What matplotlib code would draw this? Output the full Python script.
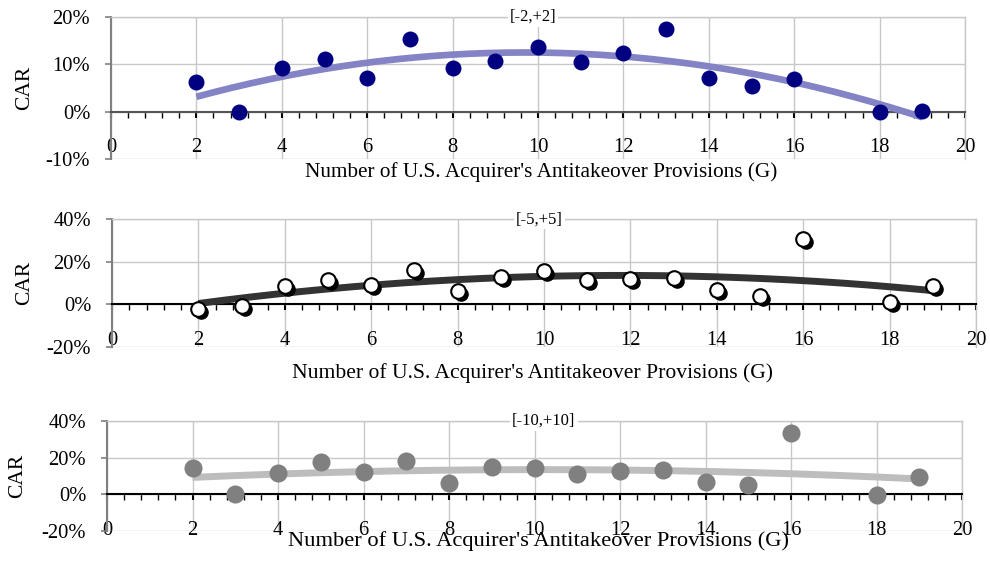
import numpy as np
import matplotlib
matplotlib.use("Agg")
import matplotlib.pyplot as plt
from matplotlib import transforms

plt.rcParams['font.family'] = ['Liberation Serif', 'DejaVu Serif']

# ---- data ----
g = [2, 3, 4, 5, 6, 7, 8, 9, 10, 11, 12, 13, 14, 15, 16, 18, 19]
car_2 = [6.2, 0.0, 9.2, 11.1, 7.1, 15.4, 9.2, 10.7, 13.7, 10.4, 12.5, 17.5, 7.1, 5.5, 6.9, -0.1, 0.1]
car_5 = [-2.4, -0.8, 8.8, 11.5, 9.1, 16.2, 6.4, 12.7, 15.7, 11.5, 11.8, 12.2, 6.7, 3.9, 30.6, 0.9, 8.6]
car_10 = [14.2, 0.0, 11.5, 17.8, 12.4, 18.2, 6.4, 14.7, 14.2, 11.1, 12.7, 13.3, 6.9, 4.9, 33.3, -0.4, 9.6]
titles = ["[-2,+2]", "[-5,+5]", "[-10,+10]"]
ylims = [(-10, 20), (-20, 40), (-20, 40)]
ysteps = [10, 20, 20]
xlabel = "Number of U.S. Acquirer's Antitakeover Provisions (G)"

W, H = 990, 561
fig = plt.figure(figsize=(W / 100, H / 100), dpi=100)

# pixel boxes: left, right, top, bottom
boxes = [(111, 965, 17, 159), (112, 976, 219.3, 346.7), (107, 962, 421, 531)]
title_x = [0.494, 0.495, 0.511]
xlabel_pos = [(541, 176.7), (533, 378.3), (539, 545.7)]
xlabel_fs = [15.3, 15.6, 16.2]
car_pos = [(25, 87.5), (25, 283), (18, 476)]

def make_ax(i):
    l, r, t, b = boxes[i]
    ax = fig.add_axes([l / W, 1 - b / H, (r - l) / W, (b - t) / H])
    return ax

series = [car_2, car_5, car_10]
fs_tick = 14.8
for i in range(3):
    ax = make_ax(i)
    y = np.array(series[i])
    x = np.array(g, dtype=float)
    lo, hi = ylims[i]
    ax.set_xlim(0, 20)
    ax.set_ylim(lo, hi)
    ax.set_xticks(np.arange(0, 21, 2))
    ax.set_xticks(np.arange(0, 20.01, 0.4), minor=True)
    ax.set_yticks(np.arange(lo, hi + 0.1, ysteps[i]))
    ax.set_yticklabels([f"{int(v)}%" for v in np.arange(lo, hi + 0.1, ysteps[i])])
    ax.grid(True, which='major', color='#c8c8c8', linewidth=1.0, zorder=0)
    ax.set_axisbelow(True)
    for s in ['top', 'right']:
        ax.spines[s].set_color('#c8c8c8')
        ax.spines[s].set_linewidth(1.0)
    ax.spines['left'].set_color('#808080')
    ax.spines['left'].set_linewidth(1.5)
    ax.spines['bottom'].set_position(('data', 0))
    ax.spines['bottom'].set_color('#555555' if i == 0 else '#000000')
    ax.spines['bottom'].set_linewidth(1.5)
    ax.tick_params(axis='x', which='major', direction='out', length=4, width=1.5,
                   color='#000000', pad=15, labelsize=fs_tick)
    ax.tick_params(axis='x', which='minor', direction='out', length=4, width=1.0,
                   color='#000000')
    ax.tick_params(axis='y', which='major', direction='out', length=4, width=1.2,
                   color='#808080', pad=11, labelsize=fs_tick)
    ax.tick_params(axis='y', which='minor', left=False)

    # trend line (2nd order polynomial fit)
    coef = np.polyfit(x, y, 2)
    xs = np.linspace(x.min(), x.max(), 200)
    ys = np.polyval(coef, xs)

    if i == 0:
        ax.plot(xs, ys, color='#8383c6', linewidth=4.8, solid_capstyle='butt', zorder=3)
        ax.plot(x, y, 'o', color='#000080', markersize=11.5, markeredgewidth=0, zorder=4,
                clip_on=False)
    elif i == 1:
        ax.plot(xs, ys, color='#333333', linewidth=5, solid_capstyle='butt', zorder=3)
        shadow = transforms.offset_copy(ax.transData, fig=fig, x=3, y=-3, units='dots')
        ax.plot(x, y, 'o', color='#000000', markersize=10.5, markeredgewidth=0,
                transform=shadow, zorder=4, clip_on=False)
        ax.plot(x, y, 'o', markerfacecolor='white', markeredgecolor='#000000',
                markersize=10.5, markeredgewidth=1.5, zorder=5, clip_on=False)
    else:
        ax.plot(xs, ys, color='#bdbdbd', linewidth=5, solid_capstyle='butt', zorder=3)
        ax.plot(x, y, 'o', color='#808080', markersize=13, markeredgewidth=0, zorder=4,
                clip_on=False)

    ax.text(title_x[i], 1.0, titles[i], transform=ax.transAxes, ha='center', va='center',
            fontsize=12, bbox=dict(facecolor='white', edgecolor='none', pad=1.5), zorder=6)

    fx, fy = xlabel_pos[i]
    fig.text(fx / W, 1 - fy / H, xlabel, ha='center', va='baseline', fontsize=xlabel_fs[i])
    cx, cy = car_pos[i]
    fig.text(cx / W, 1 - cy / H, "CAR", ha='center', va='center', rotation=90, fontsize=15.5)

fig.savefig("out.png", dpi=100)
